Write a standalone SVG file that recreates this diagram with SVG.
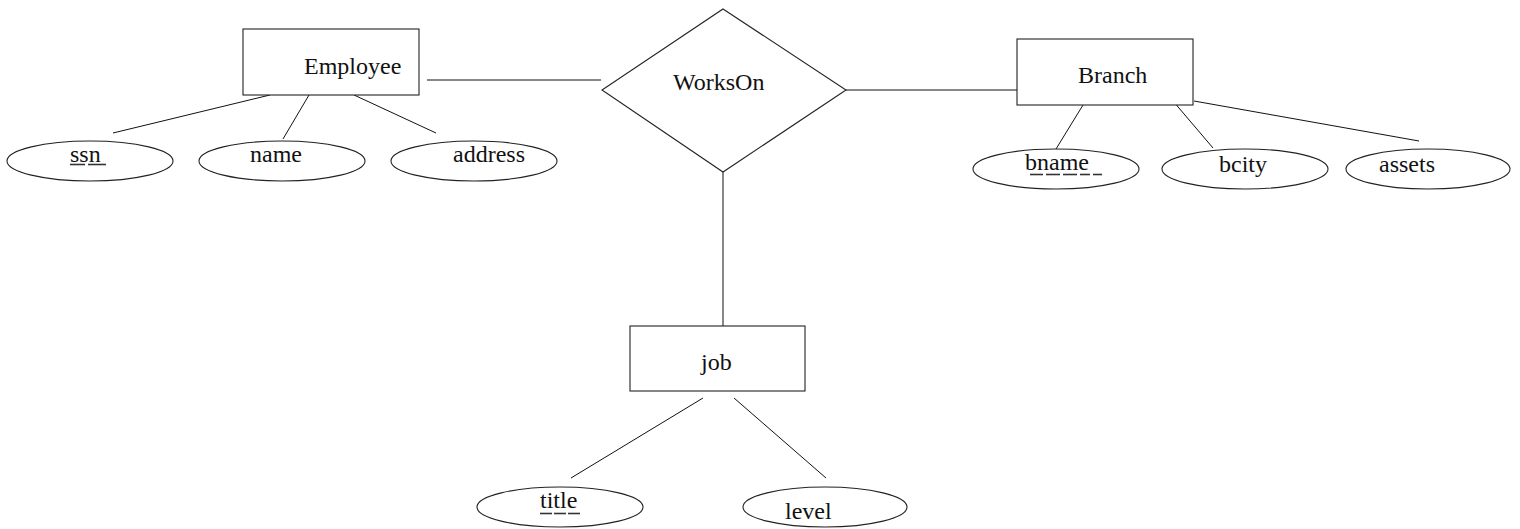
<svg xmlns="http://www.w3.org/2000/svg" width="1520" height="529" viewBox="0 0 1520 529">
<style>
.s{fill:#fff;stroke:#222;stroke-width:1.1}
.c line{stroke:#111;stroke-width:1}
text{font-family:"Liberation Serif","Times New Roman",serif;font-size:24px;fill:#111}
.u{stroke:#333;stroke-width:1.6}
</style>
<rect width="1520" height="529" fill="#fff"/>
<g class="c" id="connectors">
<line x1="427" y1="80" x2="601" y2="80"/>
<line x1="846" y1="90" x2="1019" y2="90"/>
<line x1="723" y1="172" x2="723" y2="326"/>
<line x1="270" y1="95" x2="113" y2="133"/>
<line x1="309" y1="95" x2="283" y2="139"/>
<line x1="354" y1="95" x2="436" y2="133"/>
<line x1="1083" y1="105" x2="1056" y2="149"/>
<line x1="1173" y1="101" x2="1213" y2="148"/>
<line x1="1194" y1="101" x2="1419" y2="141"/>
<line x1="703" y1="398" x2="571" y2="478"/>
<line x1="734" y1="398" x2="826" y2="478"/>
</g>
<g id="employee"><rect class="s" x="243" y="29" width="176" height="66"/><text x="304" y="74">Employee</text></g>
<g id="workson"><polygon class="s" points="723,9 846,90 723,172 602,90"/><text x="673" y="90">WorksOn</text></g>
<g id="branch"><rect class="s" x="1017" y="39" width="176" height="66"/><text x="1078" y="83">Branch</text></g>
<g id="job"><rect class="s" x="630" y="326" width="175" height="65"/><text x="701" y="370">job</text></g>
<g id="ssn"><ellipse class="s" cx="90" cy="161" rx="83" ry="20"/><text x="70" y="162">ssn</text>
<line class="u" x1="70" y1="164.5" x2="85" y2="164.5"/><line class="u" x1="88" y1="164.5" x2="106" y2="164.5"/></g>
<g id="name"><ellipse class="s" cx="282" cy="161" rx="83" ry="20"/><text x="250" y="162">name</text></g>
<g id="address"><ellipse class="s" cx="474" cy="161" rx="83" ry="20"/><text x="453" y="162">address</text></g>
<g id="bname"><ellipse class="s" cx="1056" cy="169" rx="83" ry="20"/><text x="1025" y="170">bname</text>
<line class="u" x1="1030" y1="174.5" x2="1043" y2="174.5"/><line class="u" x1="1046" y1="174.5" x2="1060" y2="174.5"/><line class="u" x1="1063" y1="174.5" x2="1077" y2="174.5"/><line class="u" x1="1080" y1="174.5" x2="1090" y2="174.5"/><line class="u" x1="1093" y1="174.5" x2="1102" y2="174.5"/></g>
<g id="bcity"><ellipse class="s" cx="1245" cy="169" rx="83" ry="20"/><text x="1219" y="172">bcity</text></g>
<g id="assets"><ellipse class="s" cx="1428" cy="169" rx="82" ry="20"/><text x="1379" y="172">assets</text></g>
<g id="title"><ellipse class="s" cx="560" cy="507" rx="83" ry="20"/><text x="540" y="508">title</text>
<line class="u" x1="540" y1="513.5" x2="552" y2="513.5"/><line class="u" x1="554" y1="513.5" x2="566" y2="513.5"/><line class="u" x1="568" y1="513.5" x2="580" y2="513.5"/></g>
<g id="level"><ellipse class="s" cx="825" cy="507" rx="82" ry="20"/><text x="785" y="519">level</text></g>
</svg>
